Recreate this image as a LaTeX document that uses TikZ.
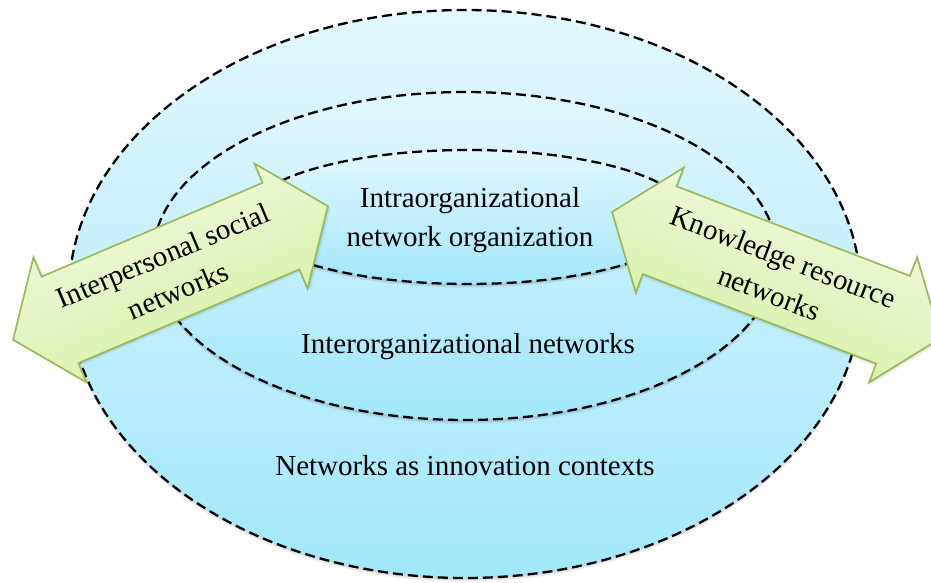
\documentclass[tikz,border=0pt]{standalone}
\usepackage{fontspec}
\setmainfont{Liberation Serif}
\definecolor{skytop}{HTML}{E3F8FE}
\definecolor{skybot}{HTML}{A2E7FB}
\definecolor{leaftop}{HTML}{F5FCE8}
\definecolor{leafbot}{HTML}{D2EE9C}
\definecolor{leafrim}{HTML}{9BBB59}
\begin{document}
\begin{tikzpicture}[x=1pt,y=-1pt,
  ring/.style={draw=black, line width=2.3pt, dash pattern=on 10pt off 5pt,
               top color=skytop, bottom color=skybot},
  softshade/.style={fill=black, opacity=0.035},
  arrowbody/.style={draw=leafrim, line width=1.7pt, line join=miter,
                    top color=leaftop, bottom color=leafbot},
  caption/.style={font=\fontsize{29}{38.5}\selectfont, align=center, inner sep=0pt}
]
\useasboundingbox (0,0) rectangle (931,583);

% outer ring: networks as innovation contexts
\foreach \k in {1,...,5}
  \path[softshade] (465,294+\k*0.8) ellipse [x radius=396, y radius=284];
\path[ring] (465,294) ellipse [x radius=396, y radius=284];

% middle ring: interorganizational networks
\foreach \k in {1,...,5}
  \path[softshade] (465,256+\k*0.8) ellipse [x radius=312, y radius=164];
\path[ring] (465,256) ellipse [x radius=312, y radius=164];

% inner ring: intraorganizational network organization
\foreach \k in {1,...,5}
  \path[softshade] (468,217+\k*0.8) ellipse [x radius=222, y radius=67];
\path[ring] (468,217) ellipse [x radius=222, y radius=67];

\node[caption] (intra) at (470,220) {Intraorganizational\\network organization};
\node[caption, anchor=base] (inter) at (468,353) {Interorganizational networks};
\node[caption, anchor=base] (context) at (465,475) {Networks as innovation contexts};

% left double arrow
\begin{scope}[shift={(170.5,273)}, rotate=23]
  \foreach \k in {1,...,4}
    \path[softshade] ([xshift=\k*0.5pt, yshift=-\k*0.8pt]-171,0) -- ++(51,-68) -- ++(0,21) -- ++(240,0)
      -- ++(0,-21) -- ++(51,68) -- ++(-51,68) -- ++(0,-21) -- ++(-240,0) -- ++(0,21) -- cycle;
  \path[arrowbody, shading angle=23] (-171,0) -- (-120,-68) -- (-120,-47) -- (120,-47) -- (120,-68)
    -- (171,0) -- (120,68) -- (120,47) -- (-120,47) -- (-120,68) -- cycle;
\end{scope}
\node[caption, rotate=23] (personal) at (170.5,273) {Interpersonal social\\networks};

% right double arrow
\begin{scope}[shift={(776.4,275)}, rotate=-21]
  \foreach \k in {1,...,4}
    \path[softshade] ([xshift=\k*0.5pt, yshift=-\k*0.8pt]-176,0) -- ++(51,-67) -- ++(0,20) -- ++(250,0)
      -- ++(0,-20) -- ++(51,67) -- ++(-51,67) -- ++(0,-20) -- ++(-250,0) -- ++(0,20) -- cycle;
  \path[arrowbody, shading angle=-21] (-176,0) -- (-125,-67) -- (-125,-47) -- (125,-47) -- (125,-67)
    -- (176,0) -- (125,67) -- (125,47) -- (-125,47) -- (-125,67) -- cycle;
\end{scope}
\node[caption, rotate=-21] (knowledge) at (776.4,275) {Knowledge resource\\networks};
\end{tikzpicture}
\end{document}
